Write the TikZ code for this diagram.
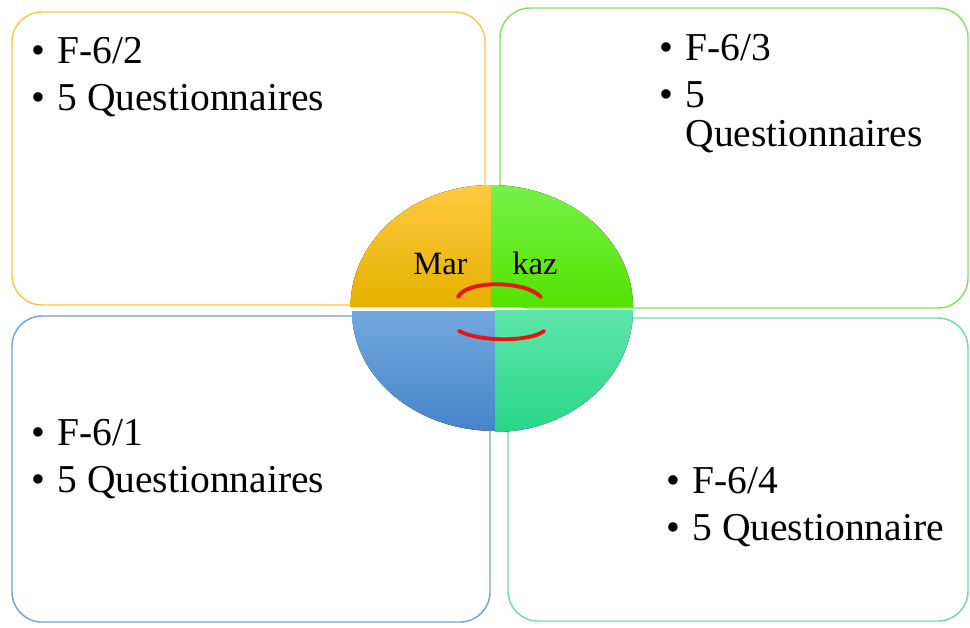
\documentclass[tikz,border=0pt]{standalone}
\usepackage{fontspec}
\setmainfont{Liberation Serif}
\usetikzlibrary{positioning}

\definecolor{lineorange}{RGB}{246,198,72}
\definecolor{linegreen}{RGB}{132,224,92}
\definecolor{lineblue}{RGB}{112,160,212}
\definecolor{lineteal}{RGB}{104,222,164}
\definecolor{markred}{RGB}{232,20,20}

\begin{document}
\begin{tikzpicture}[
  x=0.02cm, y=-0.02cm,
  panel/.style={rounded corners=0.6cm, line width=0.8pt},
  item/.style={anchor=base west, inner sep=0pt,
               font=\fontsize{22.5}{27}\selectfont},
  lbl/.style={anchor=base west, inner sep=0pt,
              font=\fontsize{18.5}{22}\selectfont},
  smile/.style={draw=markred, line width=2.2pt, line cap=round}
]
\useasboundingbox (0,0) rectangle (970,627);

% the four panels
\draw[panel, draw=lineorange] (12,12) rectangle (485,305);
\draw[panel, draw=linegreen] (500,8) rectangle (968,308);
\draw[panel, draw=lineblue] (12,316) rectangle (490,622);
\draw[panel, draw=lineteal] (508,318) rectangle (968,621);

% centre: four quarters of an oval
\fill[top color={rgb,255:red,255;green,202;blue,64}, bottom color={rgb,255:red,230;green,176;blue,0}]
  (491,307) -- ++(-140.5,0) arc[start angle=180, end angle=90, x radius=2.81cm, y radius=2.44cm] -- cycle;
\fill[top color={rgb,255:red,118;green,242;blue,72}, bottom color={rgb,255:red,84;green,226;blue,0}]
  (491,307) -- ++(142,0) arc[start angle=0, end angle=90, x radius=2.84cm, y radius=2.44cm] -- cycle;
\fill[top color={rgb,255:red,114;green,168;blue,222}, bottom color={rgb,255:red,70;green,132;blue,202}]
  (495,311) -- ++(-143,0) arc[start angle=180, end angle=270, x radius=2.86cm, y radius=2.4cm] -- cycle;
\fill[top color={rgb,255:red,94;green,230;blue,170}, bottom color={rgb,255:red,40;green,214;blue,136}]
  (495,310) -- ++(138,0) arc[start angle=0, end angle=-90, x radius=2.76cm, y radius=2.44cm] -- cycle;

\node[lbl] (mar) at (413,274) {Mar};
\node[lbl] (kaz) at (512,274) {kaz};
\draw[smile] (458,297) .. controls (466,280) and (525,280) .. (541,297);
\draw[smile] (459,331) .. controls (480,342) and (530,342) .. (544,331);

% panel texts
\node[item] (f62) at (31,63) {\begin{tabular}[t]{@{}l@{\hspace{7pt}}l@{}}• & F-6/2\\ • & 5 Questionnaires\end{tabular}};
\node[item] (f63) at (659,60) {\begin{tabular}[t]{@{}l@{\hspace{7pt}}l@{}}• & F-6/3\\ • & 5\\[-4.5pt] & Questionnaires\end{tabular}};
\node[item] (f61) at (31,445) {\begin{tabular}[t]{@{}l@{\hspace{7pt}}l@{}}• & F-6/1\\ • & 5 Questionnaires\end{tabular}};
\node[item] (f64) at (666,493) {\begin{tabular}[t]{@{}l@{\hspace{7pt}}l@{}}• & F-6/4\\ • & 5 Questionnaire\end{tabular}};
\end{tikzpicture}
\end{document}
